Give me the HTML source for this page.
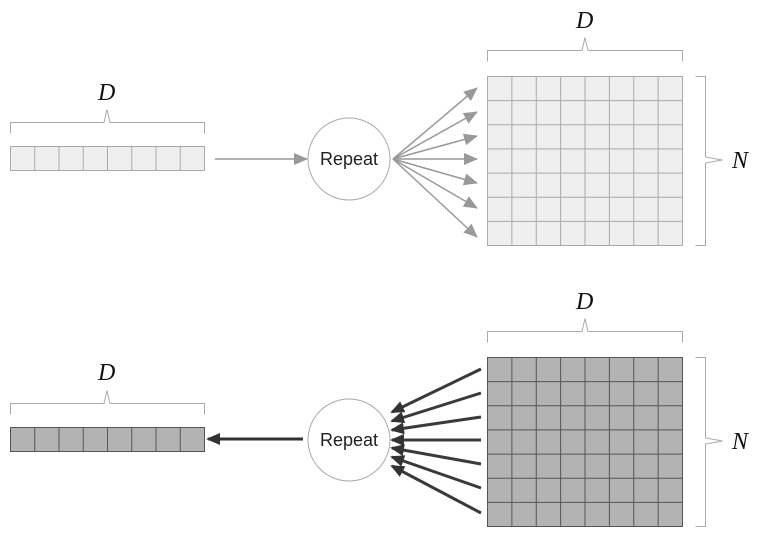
<!DOCTYPE html>
<html><head><meta charset="utf-8"><style>
html,body{margin:0;padding:0;background:#fff;}
svg{display:block}
.lbl{font-family:"Liberation Serif",serif;font-style:italic;font-size:24px;fill:#111}
.rep{font-family:"Liberation Sans",sans-serif;font-size:18px;fill:#222}
</style></head><body>
<svg id="s" width="771" height="545" viewBox="0 0 771 545" xmlns="http://www.w3.org/2000/svg">
<defs>
<marker id="ag" markerWidth="14" markerHeight="14" refX="13" refY="7" orient="auto" markerUnits="userSpaceOnUse"><path d="M0,1 L14,7 L0,13 z" fill="#999"/></marker>
<marker id="ad" markerWidth="14" markerHeight="14" refX="12" refY="7" orient="auto" markerUnits="userSpaceOnUse"><path d="M0,1 L14,7 L0,13 z" fill="#333"/></marker>
</defs>
<text class="lbl" x="98" y="100">D</text>
<text class="lbl" x="576" y="28">D</text>
<text class="lbl" x="732" y="168">N</text>
<text class="lbl" x="98" y="380">D</text>
<text class="lbl" x="576" y="309">D</text>
<text class="lbl" x="732" y="449">N</text>
<circle cx="349" cy="159" r="41" fill="#fff" stroke="#aaa" stroke-width="1"/>
<text class="rep" x="349" y="165" text-anchor="middle">Repeat</text>
<circle cx="349" cy="440" r="41" fill="#fff" stroke="#aaa" stroke-width="1"/>
<text class="rep" x="349" y="446" text-anchor="middle">Repeat</text>
<g id="g"></g>
</svg>
<script>
var g=document.getElementById('g'),NS='http://www.w3.org/2000/svg';
function el(t,a){var e=document.createElementNS(NS,t);for(var k in a)e.setAttribute(k,a[k]);g.appendChild(e);return e;}
function grid(x,y,w,h,c,r,fill,st){el('rect',{x:x,y:y,width:w,height:h,fill:fill,stroke:st,'stroke-width':1});
for(var i=1;i<c;i++)el('line',{x1:x+w*i/c,y1:y,x2:x+w*i/c,y2:y+h,stroke:st});
for(var j=1;j<r;j++)el('line',{x1:x,y1:y+h*j/r,x2:x+w,y2:y+h*j/r,stroke:st});}
grid(10.5,146.5,194,24,8,1,'#efefef','#aaa');
grid(487.5,76.5,195,169,8,7,'#efefef','#aaa');
grid(10.5,427.5,194,24,8,1,'#b3b3b3','#555');
grid(487.5,357.5,195,169,8,7,'#b3b3b3','#555');
function hb(x1,x2,y,px){el('path',{d:'M'+x1+','+(y+11)+' L'+x1+','+y+' L'+(px-3)+','+y+' L'+px+','+(y-13)+' L'+(px+3)+','+y+' L'+x2+','+y+' L'+x2+','+(y+11),fill:'none',stroke:'#aaa'});}
hb(10.5,204.5,122.5,107);hb(487.5,682.5,50.5,585);hb(10.5,204.5,403.5,107);hb(487.5,682.5,331.5,585);
function vb(y1,y2,x,py){el('path',{d:'M'+(x-10)+','+y1+' L'+x+','+y1+' L'+x+','+(py-3)+' L'+(x+17)+','+py+' L'+x+','+(py+3)+' L'+x+','+y2+' L'+(x-10)+','+y2,fill:'none',stroke:'#aaa'});}
vb(76.5,245.5,705.5,160);vb(357.5,526.5,705.5,441);
el('line',{x1:215,y1:159,x2:307,y2:159,stroke:'#999','stroke-width':1.5,'marker-end':'url(#ag)'});
var ys=[88,112,136,159,183,208,237];
ys.forEach(function(y){el('line',{x1:393,y1:159,x2:477,y2:y,stroke:'#999','stroke-width':1.5,'marker-end':'url(#ag)'});});
var yb=[369,393,417,440,464,488,513],ye=[412,421,430,440,448,457,466];
yb.forEach(function(y,i){el('line',{x1:481,y1:y,x2:392,y2:ye[i],stroke:'#3a3a3a','stroke-width':3,'marker-end':'url(#ad)'});});
el('line',{x1:303,y1:439,x2:208,y2:439,stroke:'#333','stroke-width':3,'marker-end':'url(#ad)'});
</script>
</body></html>
